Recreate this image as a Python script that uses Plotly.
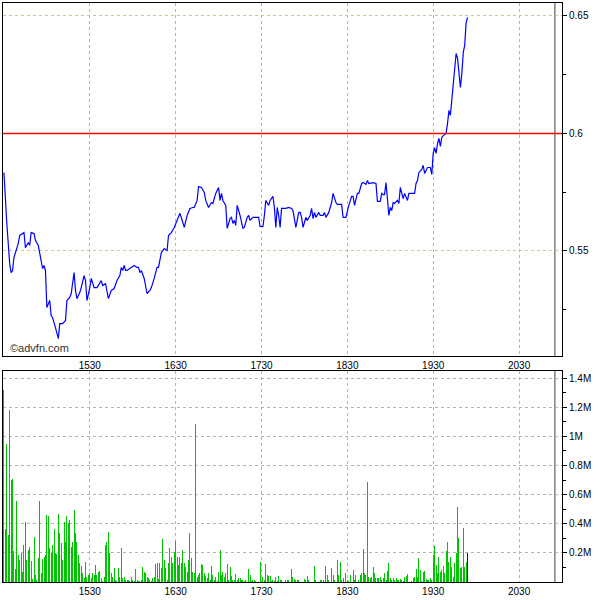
import plotly.graph_objects as go
import pandas as pd

SESSION_DATE = "2024-01-02"
SESSION_START = "14:30"
SESSION_END = "21:00"
MARKER_TIME = "20:55"
PREV_CLOSE = 0.60

# price: minutes after session start, price
price_offset_min = [
    0, 1, 2, 3, 4, 5, 6, 7, 8, 10, 11, 14, 15, 17, 18, 19, 21, 22, 24, 25,
    27, 28, 29, 30, 32, 33, 34, 36, 38, 39, 41, 43, 44, 46, 47, 49, 50, 51, 53, 54,
    56, 57, 58, 60, 61, 63, 65, 68, 69, 71, 73, 75, 77, 79, 81, 82, 83, 84, 85, 86,
    89, 91, 93, 94, 95, 96, 98, 99, 100, 102, 103, 105, 107, 108, 110, 112, 114, 115, 117, 119,
    120, 122, 123, 125, 126, 128, 130, 132, 133, 135, 136, 138, 140, 141, 143, 145, 146, 148, 150, 151,
    152, 153, 155, 156, 158, 159, 160, 161, 162, 163, 165, 167, 168, 170, 171, 172, 174, 176, 178, 179,
    181, 182, 183, 185, 186, 188, 189, 190, 191, 192, 193, 194, 196, 197, 199, 201, 202, 203, 204, 206,
    207, 208, 209, 210, 211, 212, 214, 215, 216, 217, 218, 220, 221, 223, 224, 225, 227, 228, 229, 230,
    232, 233, 236, 237, 239, 241, 243, 244, 245, 247, 248, 250, 251, 253, 254, 255, 257, 258, 260, 261,
    263, 264, 265, 266, 267, 268, 269, 270, 271, 272, 273, 275, 276, 277, 278, 279, 280, 282, 283, 285,
    287, 288, 289, 290, 292, 293, 294, 296, 297, 298, 299, 300, 301, 302, 303, 304, 305, 306, 307, 309,
    310, 311, 312, 313, 314, 315, 316, 317, 318, 319, 320, 321, 322, 323, 324,
]
price = [
    0.5834, 0.5693, 0.5617, 0.5532, 0.5446, 0.5408, 0.5417, 0.5472, 0.5493, 0.5532,
    0.5566, 0.5578, 0.5514, 0.5536, 0.5523, 0.5578, 0.5574, 0.5545, 0.5523, 0.5493,
    0.5425, 0.5438, 0.5417, 0.5259, 0.5289, 0.5225, 0.5216, 0.5174, 0.5127, 0.5191,
    0.5191, 0.5204, 0.5289, 0.5302, 0.5319, 0.5408, 0.5332, 0.5297, 0.5323, 0.5344,
    0.5395, 0.5374, 0.5289, 0.5344, 0.5383, 0.5344, 0.5344, 0.5374, 0.5353, 0.5361,
    0.5297, 0.5332, 0.5340, 0.5374, 0.5395, 0.5430, 0.5417, 0.5438, 0.5417, 0.5417,
    0.5430, 0.5438, 0.5430, 0.5430, 0.5408, 0.5417, 0.5383, 0.5344, 0.5319, 0.5332,
    0.5344, 0.5383, 0.5430, 0.5430, 0.5493, 0.5510, 0.5502, 0.5566, 0.5578, 0.5600,
    0.5617, 0.5643, 0.5660, 0.5621, 0.5600, 0.5651, 0.5681, 0.5685, 0.5685, 0.5715,
    0.5774, 0.5770, 0.5749, 0.5715, 0.5685, 0.5706, 0.5702, 0.5745, 0.5770, 0.5715,
    0.5745, 0.5715, 0.5694, 0.5596, 0.5638, 0.5643, 0.5617, 0.5630, 0.5609, 0.5694,
    0.5651, 0.5596, 0.5600, 0.5643, 0.5651, 0.5630, 0.5643, 0.5643, 0.5643, 0.5604,
    0.5604, 0.5651, 0.5715, 0.5694, 0.5715, 0.5732, 0.5685, 0.5600, 0.5685, 0.5651,
    0.5600, 0.5681, 0.5681, 0.5681, 0.5685, 0.5681, 0.5672, 0.5630, 0.5600, 0.5664,
    0.5664, 0.5643, 0.5600, 0.5621, 0.5643, 0.5630, 0.5651, 0.5681, 0.5638, 0.5664,
    0.5643, 0.5664, 0.5651, 0.5651, 0.5664, 0.5643, 0.5664, 0.5685, 0.5706, 0.5745,
    0.5706, 0.5698, 0.5698, 0.5643, 0.5643, 0.5694, 0.5732, 0.5732, 0.5694, 0.5745,
    0.5745, 0.5787, 0.5791, 0.5783, 0.5800, 0.5787, 0.5791, 0.5791, 0.5787, 0.5711,
    0.5711, 0.5745, 0.5740, 0.5740, 0.5791, 0.5728, 0.5651, 0.5685, 0.5672, 0.5706,
    0.5702, 0.5715, 0.5702, 0.5770, 0.5749, 0.5723, 0.5745, 0.5715, 0.5745, 0.5745,
    0.5745, 0.5787, 0.5800, 0.5834, 0.5847, 0.5864, 0.5830, 0.5855, 0.5855, 0.5855,
    0.5826, 0.5915, 0.5940, 0.5915, 0.5957, 0.5979, 0.5945, 0.5983, 0.5991, 0.6000,
    0.6043, 0.6098, 0.6077, 0.6140, 0.6196, 0.6260, 0.6340, 0.6319, 0.6238, 0.6196,
    0.6255, 0.6345, 0.6374, 0.6472, 0.6494,
]

# volume per minute from session start, in thousands of shares
volume_k = [
    1320, 361, 945, 322, 1178, 699, 710, 212, 87, 555,
    185, 151, 196, 66, 253, 409, 151, 219, 237, 144,
    21, 310, 48, 15, 162, 555, 59, 158, 174, 185,
    463, 452, 231, 196, 253, 363, 201, 189, 466, 338,
    269, 151, 413, 276, 452, 406, 425, 242, 276, 493,
    333, 276, 187, 128, 110, 64, 30, 139, 32, 48,
    59, 25, 59, 48, 116, 48, 66, 78, 25, 9,
    32, 253, 276, 345, 196, 59, 37, 94, 14, 10,
    94, 37, 231, 25, 32, 14, 14, 14, 5, 32,
    14, 5, 87, 14, 9, 5, 14, 100, 71, 59,
    37, 25, 14, 5, 25, 37, 123, 128, 20, 132,
    94, 292, 151, 94, 14, 132, 231, 174, 132, 205,
    281, 174, 116, 174, 128, 219, 128, 105, 71, 151,
    333, 162, 71, 59, 1082, 37, 48,
    59, 123, 116, 59, 41, 25, 64, 14, 110, 48,
    14, 32, 5, 71, 219, 48, 68, 32, 59, 123,
    14, 105, 41, 14, 14, 55, 14, 25, 25, 14,
    14, 5, 14, 3, 89, 48, 5, 14, 14, 5,
    3, 3, 137, 5, 37, 14, 123, 48, 41, 41,
    5, 14, 5, 37, 5, 41, 14, 14, 3, 3,
    14, 14, 14, 3, 87, 32, 23, 14, 14, 14,
    3, 3, 3, 23, 14, 41, 14, 3, 3, 3,
    110, 14, 3, 3, 14, 14, 14, 3, 110, 48,
    14, 3, 94, 48, 14, 3, 151, 48, 139, 14,
    25, 3, 59, 14, 9, 48, 3, 82, 14, 48,
    3, 14, 48, 64, 224, 59, 48, 687, 32, 25,
    37, 105, 64, 25, 25, 25, 37, 14, 25, 59,
    14, 78, 132, 25, 14, 25, 14, 25,
    14, 14, 18, 14, 5, 32, 41, 55, 3, 3,
    9, 25, 37, 87, 32, 162, 82, 9, 68, 78,
    18, 14, 14, 25, 14, 185, 247, 116, 59, 174,
    71, 82, 110, 59, 215, 276, 139, 169, 100, 32,
    132, 196, 516, 299, 94, 105, 368, 105, 139, 196,
]

hour_ticks = ["1530", "1630", "1730", "1830", "1930", "2030"]
price_ticks = [0.55, 0.60, 0.65]
price_tick_text = ["0.55", "0.6", "0.65"]
price_minor = [0.525, 0.575, 0.625]
vol_ticks = [200000, 400000, 600000, 800000, 1000000, 1200000, 1400000]
vol_tick_text = ["0.2M", "0.4M", "0.6M", "0.8M", "1M", "1.2M", "1.4M"]
vol_minor = [100000, 300000, 500000, 700000, 900000, 1100000, 1300000]

t0 = pd.Timestamp(f"{SESSION_DATE} {SESSION_START}")
t_end = pd.Timestamp(f"{SESSION_DATE} {SESSION_END}")
t_mark = pd.Timestamp(f"{SESSION_DATE} {MARKER_TIME}")
price_t = [t0 + pd.Timedelta(minutes=m) for m in price_offset_min]
vol_t = [t0 + pd.Timedelta(minutes=i) for i in range(len(volume_k))]
vol = [v * 1000 for v in volume_k]
bar_colors = ["#00c400"] * (len(vol) - 1) + ["#0000ff"]
tickvals_x = [pd.Timestamp(f"{SESSION_DATE} {h[:2]}:{h[2:]}") for h in hour_ticks]
x_range = [t0 - pd.Timedelta(seconds=40), t_end]

FONT = dict(family="Liberation Sans, Arial, sans-serif", size=10, color="#000000")

fig = go.Figure()
fig.add_trace(go.Scatter(x=price_t, y=price, mode="lines",
                         line=dict(color="#0000ff", width=1.2),
                         xaxis="x", yaxis="y", hoverinfo="skip"))
fig.add_trace(go.Bar(x=vol_t, y=vol, marker=dict(color=bar_colors, line=dict(width=0)),
                     width=42000, xaxis="x2", yaxis="y2", hoverinfo="skip"))

xcommon = dict(type="date", range=x_range, tickmode="array", tickvals=tickvals_x,
               ticktext=hour_ticks, showgrid=True, gridcolor="#b4b4b4", griddash="dot",
               gridwidth=1, showline=True, linecolor="#000000", linewidth=1, mirror=True,
               ticks="", tickfont=FONT, zeroline=False)

top_dom = [0.3903, 1.0]
bot_dom = [0.0, 0.3644]

fig.update_layout(
    width=600, height=600,
    margin=dict(l=3, r=38, t=3, b=18, autoexpand=False),
    paper_bgcolor="#ffffff", plot_bgcolor="#ffffff",
    showlegend=False,
    font=FONT,
    xaxis=dict(xcommon, domain=[0, 1], anchor="y"),
    xaxis2=dict(xcommon, domain=[0, 1], anchor="y2"),
    yaxis=dict(domain=top_dom, anchor="x", side="right", range=[0.5053, 0.6555],
               tickmode="array", tickvals=price_ticks, ticktext=price_tick_text,
               ticks="outside", ticklen=4, tickcolor="#000000",
               minor=dict(tickvals=price_minor, ticks="outside", ticklen=3,
                          tickcolor="#000000", showgrid=False),
               showgrid=True, gridcolor="#c8c8a0", griddash="dot",
               showline=True, linecolor="#000000", linewidth=1, mirror=True,
               zeroline=False, tickfont=FONT),
    yaxis2=dict(domain=bot_dom, anchor="x2", side="right", range=[0, 1448000],
                tickmode="array", tickvals=vol_ticks, ticktext=vol_tick_text,
                ticks="outside", ticklen=4, tickcolor="#000000",
                minor=dict(tickvals=vol_minor, ticks="outside", ticklen=3,
                           tickcolor="#000000", showgrid=False),
                showgrid=True, gridcolor="#b4b4b4", griddash="dot",
                showline=True, linecolor="#000000", linewidth=1, mirror=True,
                zeroline=False, tickfont=FONT),
    bargap=0,
    shapes=[
        dict(type="line", xref="x domain", yref="y", x0=0, x1=1, y0=PREV_CLOSE, y1=PREV_CLOSE,
             line=dict(color="#ff0000", width=1.5), layer="above"),
        dict(type="line", xref="x", yref="y domain", x0=t_mark, x1=t_mark, y0=0, y1=1,
             line=dict(color="#808080", width=1.5), layer="below"),
        dict(type="line", xref="x2", yref="y2 domain", x0=t_mark, x1=t_mark, y0=0, y1=1,
             line=dict(color="#808080", width=1.5), layer="below"),
    ],
    annotations=[
        dict(text="©advfn.com", xref="paper", yref="paper", x=0.009, y=0.404,
             xanchor="left", yanchor="middle", showarrow=False,
             font=dict(family="Liberation Sans, Arial, sans-serif", size=11, color="#333333")),
    ],
)

fig.write_html("out.html", config={"displayModeBar": False, "staticPlot": True},
               post_script="document.body.style.margin='0';document.body.style.overflow='hidden';")
